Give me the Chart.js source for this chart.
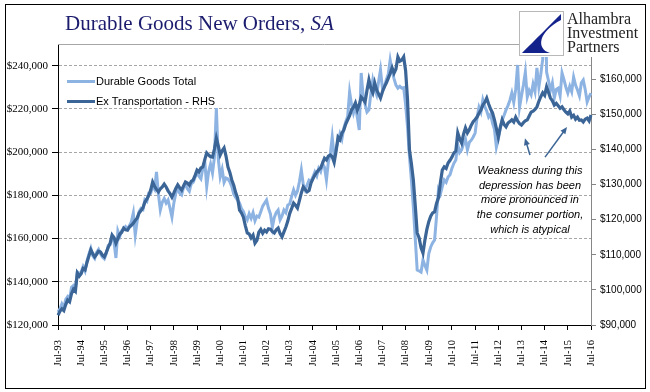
<!DOCTYPE html>
<html>
<head>
<meta charset="utf-8">
<script src="https://cdn.jsdelivr.net/npm/chart.js@4.4.1/dist/chart.umd.min.js"></script>
<style>
  html, body { margin: 0; padding: 0; background: #fff; }
  #wrap { position: relative; width: 650px; height: 392px; overflow: hidden; }
  #chart { position: absolute; left: 0; top: 0; }
  .frame { position: absolute; left: 5px; top: 4px; width: 639px; height: 383px; border: 1px solid #000; pointer-events: none; }
  .title { position: absolute; left: 65px; top: 11px; font: 21px "Liberation Serif", serif; color: #1c1c6e; white-space: nowrap; }
  .logo { position: absolute; left: 519px; top: 11px; width: 125px; height: 46px; background: #fff; }
  .logo .box { position: absolute; left: 0; top: 0; width: 43px; height: 43px; border: 1px solid #b8b8b8; }
  .logo .name { position: absolute; left: 48px; top: 1px; font: 16px/14px "Liberation Serif", serif; color: #222; white-space: nowrap; }
  .legend { position: absolute; left: 67px; font: 11px/13px "Liberation Sans", Arial, sans-serif; color: #000; white-space: nowrap; }
  .legend span { display: inline-block; width: 28px; height: 3px; vertical-align: middle; margin-right: 1px; position: relative; top: -1px; }
  .note { position: absolute; left: 465px; top: 163px; width: 130px; text-align: center; font: italic 11px/14.7px "Liberation Sans", Arial, sans-serif; color: #000; }
</style>
</head>
<body>
<div id="wrap">
  <canvas id="chart" width="650" height="392"></canvas>
  <div class="title">Durable Goods New Orders, <i>SA</i></div>
  <div class="logo">
    <div class="box">
      <svg width="43" height="43" viewBox="0 0 43 43">
        <path d="M41,2 C30,13 14,29 2,41 L30,41 C16,37 18,20 41,8 Z" fill="#14238c"/>
      </svg>
    </div>
    <div class="name">Alhambra<br>Investment<br>Partners</div>
  </div>
  <div class="legend" style="top:75px"><span style="background:#8db3e2"></span>Durable Goods Total</div>
  <div class="legend" style="top:95px"><span style="background:#3b6596"></span>Ex Transportation - RHS</div>
  <div class="note">Weakness during this<br>depression has been<br>more pronounced in<br>the consumer portion,<br>which is atypical</div>
  <div class="frame"></div>
</div>
<script>
// monthly, Jul-93 .. Jul-16, $ billions (axis labels show $ millions)
const startYear = 1993;
const monthCount = 277;
const monthNames = ["Jan", "Feb", "Mar", "Apr", "May", "Jun", "Jul", "Aug", "Sep", "Oct", "Nov", "Dec"];

const durableTotal = [
    126.0, 127.5, 129.8, 128.1, 131.9, 133.2, 132.0, 137.4, 138.2, 136.8, 144.6, 143.9,
    144.5, 147.0, 145.0, 149.6, 152.8, 155.5, 152.0, 150.8, 153.6, 155.0, 152.9, 151.4,
    150.6, 153.0, 156.8, 157.2, 161.0, 158.4, 151.0, 163.5, 161.0, 163.6, 164.2, 165.5,
    164.5, 166.0, 167.8, 171.8, 161.6, 168.2, 172.5, 174.0, 173.4, 178.0, 177.2, 181.0,
    181.0, 184.2, 182.8, 190.8, 180.5, 173.2, 176.8, 178.5, 176.4, 177.8, 174.0, 169.9,
    176.5, 181.0, 183.4, 181.0, 180.2, 183.6, 185.0, 183.0, 181.8, 185.4, 186.0, 188.4,
    190.5, 188.8, 187.6, 192.5, 195.8, 184.0, 191.0, 194.5, 190.3, 197.5, 220.4, 196.8,
    188.5, 192.0, 186.0, 188.0, 187.6, 186.2, 184.0, 180.5, 179.0, 177.8, 176.5, 173.8,
    172.5, 170.0, 168.6, 171.5, 169.4, 172.0, 168.2, 170.4, 169.9, 172.4, 175.0, 176.4,
    177.8, 174.0, 171.4, 165.3, 169.8, 172.0, 173.2, 168.6, 170.4, 173.2, 172.0, 175.5,
    176.0, 179.5, 182.5, 180.0, 182.0, 186.3, 191.7, 185.0, 182.5, 184.8, 187.0, 186.5,
    188.5, 190.8, 189.0, 192.5, 191.0, 194.6, 193.0, 187.1, 195.5, 199.0, 207.0, 198.0,
    201.5, 205.0, 208.5, 206.0, 211.0, 214.0, 216.5, 227.8, 222.0, 218.1, 221.5, 216.0,
    210.2, 236.6, 226.0, 222.0, 218.5, 219.5, 227.0, 233.3, 229.0, 226.5, 232.5, 238.0,
    229.5, 230.1, 233.5, 236.0, 242.6, 237.5, 234.0, 231.0, 229.6, 230.4, 229.6, 229.8,
    222.0, 211.6, 198.0, 187.0, 174.6, 160.0, 145.4, 145.0, 144.5, 150.1, 147.5, 145.4,
    153.0, 156.1, 158.0, 159.3, 170.0, 182.5, 180.5, 184.0, 187.1, 186.0, 188.5, 189.5,
    192.5, 194.8, 196.3, 203.5, 199.8, 201.0, 203.8, 206.0, 201.0, 204.5, 205.5, 207.0,
    208.8, 216.0, 220.8, 218.5, 224.1, 221.0, 219.0, 216.2, 217.5, 213.4, 210.5, 202.3,
    206.0, 211.0, 214.8, 217.0, 219.5, 221.5, 224.0, 227.3, 223.0, 229.0, 240.3, 220.8,
    226.0, 231.0, 237.0, 225.5, 228.5, 226.5, 231.5, 228.0, 238.9, 230.1, 236.0, 243.0,
    300.0, 237.0, 233.0, 228.5, 232.0, 225.0, 229.0, 229.6, 226.0, 236.6, 233.5, 230.0,
    227.3, 230.5, 228.0, 234.7, 231.0, 228.7, 226.0, 232.0, 233.3, 229.0, 223.2, 225.5, 227.3
];

const exTransport = [
    92.8, 93.9, 94.6, 94.1, 95.8, 97.1, 96.6, 98.9, 100.2, 99.6, 104.8, 103.9,
    104.6, 106.1, 105.7, 107.8, 109.6, 111.4, 110.3, 109.4, 110.1, 111.0, 110.8, 109.9,
    109.4, 110.7, 112.1, 113.3, 115.6, 114.9, 113.3, 114.6, 115.9, 116.4, 117.6, 117.1,
    117.0, 117.9, 118.4, 119.0, 119.8, 120.5, 121.9, 122.6, 123.4, 125.0, 125.8, 126.9,
    128.4, 130.7, 129.5, 128.6, 127.9, 128.8, 129.3, 130.1, 129.3, 128.2, 127.4, 126.4,
    127.6, 128.9, 129.9, 129.1, 128.4, 129.6, 130.7, 130.4, 129.8, 130.9, 131.3, 132.6,
    134.1, 133.6, 134.7, 135.0, 137.1, 139.0, 138.4, 137.9, 137.8, 140.1, 143.2, 141.0,
    138.4, 139.6, 140.4, 138.1, 135.0, 133.4, 131.3, 129.8, 127.7, 126.2, 122.7, 121.9,
    120.7, 118.3, 116.2, 115.9, 114.8, 115.6, 113.3, 114.1, 116.4, 117.2, 116.1, 117.0,
    116.5, 117.4, 117.3, 116.6, 116.2, 117.1, 117.6, 116.0, 115.1, 116.5, 117.9, 119.6,
    121.8, 123.2, 124.7, 124.1, 123.3, 125.4, 127.6, 129.3, 128.6, 127.9, 128.3, 130.4,
    131.6, 132.7, 133.5, 134.2, 134.7, 136.1, 137.5, 137.0, 138.1, 138.4, 137.9, 136.3,
    139.5, 143.5, 142.8, 144.6, 145.5, 147.2, 148.4, 149.6, 151.2, 152.0, 153.2, 151.2,
    152.7, 154.9, 154.3, 153.5, 156.8, 159.8, 157.4, 156.1, 158.9, 156.9, 155.8, 154.6,
    156.4, 157.8, 158.9, 160.2, 161.6, 163.2, 161.7, 162.9, 166.3, 165.1, 165.4, 166.3,
    162.4, 154.1, 139.8, 135.9, 131.3, 124.0, 116.2, 114.8, 112.0, 110.5, 114.2, 117.2,
    119.4, 121.0, 121.9, 122.2, 124.6, 126.2, 130.5, 134.1, 135.0, 134.6, 136.1, 136.9,
    137.8, 139.0, 139.5, 144.7, 143.0, 141.8, 144.3, 146.1, 144.7, 145.6, 146.9, 147.9,
    148.5, 149.2, 150.3, 151.2, 152.6, 153.4, 154.6, 152.9, 151.5, 150.4, 148.4, 146.0,
    143.5, 146.2, 148.4, 147.1, 146.4, 147.5, 147.9, 148.4, 147.8, 149.2, 148.1, 147.3,
    146.9, 147.6, 148.1, 148.4, 149.5, 150.6, 150.9, 151.4, 152.1, 153.7, 155.0, 156.1,
    155.4, 157.8, 156.2, 154.6, 153.8, 152.6, 153.1, 152.4, 151.7, 152.1, 151.3, 150.6,
    150.1, 150.9, 149.2, 149.7, 148.6, 149.2, 148.3, 148.4, 147.8, 148.6, 148.9, 148.1, 149.8
];

// arrows for the note, [month index, RHS value]
const arrows = [
    { from: [244.4, 138.4], to: [241.8, 143.2] },
    { from: [252.2, 137.8], to: [263.6, 146.4] }
];

const months = [];
for (let i = 0; i < monthCount; i++) {
    const n = 6 + i;
    months.push(monthNames[n % 12] + "-" + String((startYear + Math.floor(n / 12)) % 100).padStart(2, "0"));
}

const money = v => "$" + Math.round(v * 1000).toLocaleString("en-US");

const extras = {
    id: "extras",
    beforeDatasetsDraw(chart) {
        const { ctx, chartArea } = chart;
        ctx.save();
        ctx.strokeStyle = "#a6a6a6";
        ctx.lineWidth = 1;
        ctx.beginPath();
        ctx.moveTo(chartArea.left, chartArea.top + 0.5);
        ctx.lineTo(chartArea.right, chartArea.top + 0.5);
        ctx.stroke();
        ctx.restore();
    },
    afterDatasetsDraw(chart) {
        const { ctx } = chart;
        const x = chart.scales.x, y2 = chart.scales.y2;
        ctx.save();
        ctx.strokeStyle = "#3b6596";
        ctx.fillStyle = "#3b6596";
        ctx.lineWidth = 1.5;
        arrows.forEach(a => {
            const x1 = x.getPixelForValue(a.from[0]), y1 = y2.getPixelForValue(a.from[1]);
            const x2 = x.getPixelForValue(a.to[0]), y2p = y2.getPixelForValue(a.to[1]);
            const ang = Math.atan2(y2p - y1, x2 - x1);
            ctx.beginPath();
            ctx.moveTo(x1, y1);
            ctx.lineTo(x2 - 5 * Math.cos(ang), y2p - 5 * Math.sin(ang));
            ctx.stroke();
            ctx.beginPath();
            ctx.moveTo(x2, y2p);
            ctx.lineTo(x2 - 7 * Math.cos(ang) + 3 * Math.sin(ang), y2p - 7 * Math.sin(ang) - 3 * Math.cos(ang));
            ctx.lineTo(x2 - 7 * Math.cos(ang) - 3 * Math.sin(ang), y2p - 7 * Math.sin(ang) + 3 * Math.cos(ang));
            ctx.closePath();
            ctx.fill();
        });
        ctx.restore();
    }
};

new Chart(document.getElementById("chart").getContext("2d"), {
    type: "line",
    data: {
        labels: months,
        datasets: [{
            label: "Ex Transportation - RHS",
            data: exTransport,
            yAxisID: "y2",
            borderColor: "#3b6596",
            borderWidth: 3.2,
            pointRadius: 0,
            tension: 0,
            order: 0
        }, {
            label: "Durable Goods Total",
            data: durableTotal,
            yAxisID: "y",
            borderColor: "#8db3e2",
            borderWidth: 3,
            pointRadius: 0,
            tension: 0,
            order: 1
        }]
    },
    options: {
        responsive: false,
        animation: false,
        layout: { padding: { top: 44, left: 0, right: 0, bottom: 0 } },
        plugins: { legend: { display: false }, tooltip: { enabled: false } },
        scales: {
            x: {
                afterFit: s => { s.height = 67; },
                grid: {
                    drawOnChartArea: false,
                    tickLength: 5,
                    color: c => (c.index % 12 === 0 ? "#000" : "rgba(0,0,0,0)")
                },
                border: { color: "#000", width: 1 },
                ticks: {
                    autoSkip: false,
                    minRotation: 90,
                    maxRotation: 90,
                    padding: 10,
                    color: "#000",
                    font: { family: "Liberation Serif", size: 10.5 },
                    callback: function (v, i) { return i % 12 === 0 ? this.getLabelForValue(v) : ""; }
                }
            },
            y: {
                position: "left",
                min: 120,
                max: 250,
                afterFit: s => { s.width = 58; },
                grid: {
                    tickLength: 6,
                    color: c => (c.tick && c.tick.value === 120 ? "rgba(0,0,0,0)" : "#a6a6a6"),
                    tickColor: "#000"
                },
                border: { color: "#000", width: 1, dash: [3, 2] },
                ticks: {
                    stepSize: 20,
                    includeBounds: false,
                    padding: 4,
                    color: "#000",
                    font: { family: "Liberation Serif", size: 11 },
                    callback: v => money(v)
                }
            },
            y2: {
                position: "right",
                min: 90,
                max: 170,
                afterFit: s => { s.width = 59; },
                grid: { drawOnChartArea: false, tickLength: 5, color: "#868686" },
                border: { color: "#868686", width: 1 },
                ticks: {
                    stepSize: 10,
                    padding: 4,
                    color: "#000",
                    font: { family: "Liberation Sans", size: 10 },
                    callback: v => (v >= 170 ? "" : money(v))
                }
            }
        }
    },
    plugins: [extras]
});
</script>
</body>
</html>
